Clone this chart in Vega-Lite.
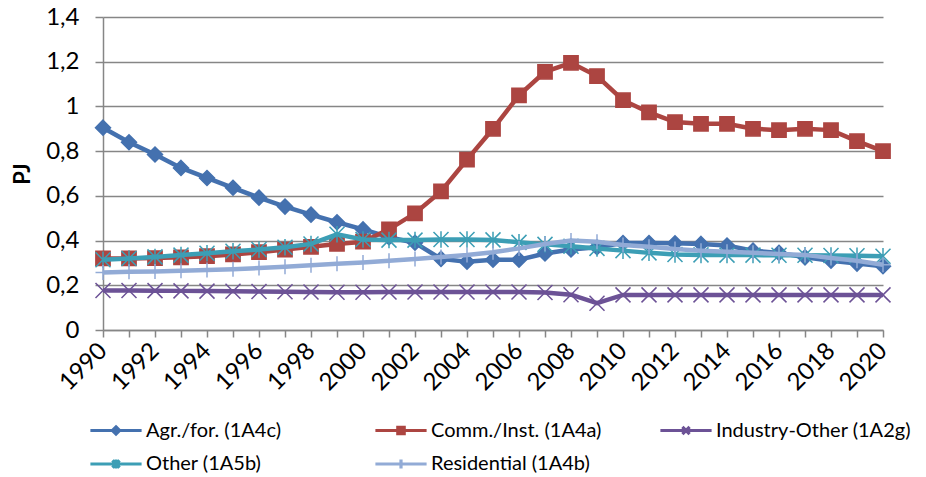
{
  "$schema": "https://vega.github.io/schema/vega-lite/v6.json",
  "autosize": {"type": "none"},
  "padding": {"left": 103, "top": 17, "right": 43, "bottom": 147},
  "width": 780,
  "height": 313,
  "background": "white",
  "config": {
    "view": {"stroke": null},
    "font": "Lato",
    "axis": {
      "domainColor": "#868686", "domainWidth": 1.5,
      "tickColor": "#868686", "tickWidth": 1.5,
      "gridColor": "#868686", "gridWidth": 1.5,
      "labelFont": "Lato", "labelFontSize": 24, "labelColor": "#000000",
      "titleFont": "Lato", "titleColor": "#000000"
    }
  },
  "data": {"values": [
    {"year": 1990, "agr": 0.905, "comm": 0.32, "ind": 0.177, "oth": 0.314, "res": 0.257},
    {"year": 1991, "agr": 0.84, "comm": 0.32, "ind": 0.177, "oth": 0.32, "res": 0.26},
    {"year": 1992, "agr": 0.785, "comm": 0.322, "ind": 0.176, "oth": 0.327, "res": 0.262},
    {"year": 1993, "agr": 0.725, "comm": 0.325, "ind": 0.175, "oth": 0.335, "res": 0.265},
    {"year": 1994, "agr": 0.68, "comm": 0.33, "ind": 0.174, "oth": 0.343, "res": 0.268},
    {"year": 1995, "agr": 0.636, "comm": 0.338, "ind": 0.173, "oth": 0.352, "res": 0.272},
    {"year": 1996, "agr": 0.592, "comm": 0.348, "ind": 0.172, "oth": 0.36, "res": 0.277},
    {"year": 1997, "agr": 0.552, "comm": 0.36, "ind": 0.171, "oth": 0.37, "res": 0.283},
    {"year": 1998, "agr": 0.516, "comm": 0.372, "ind": 0.17, "oth": 0.385, "res": 0.29},
    {"year": 1999, "agr": 0.482, "comm": 0.385, "ind": 0.169, "oth": 0.428, "res": 0.296},
    {"year": 2000, "agr": 0.45, "comm": 0.395, "ind": 0.169, "oth": 0.405, "res": 0.302},
    {"year": 2001, "agr": 0.415, "comm": 0.45, "ind": 0.17, "oth": 0.402, "res": 0.31},
    {"year": 2002, "agr": 0.39, "comm": 0.522, "ind": 0.17, "oth": 0.402, "res": 0.318},
    {"year": 2003, "agr": 0.318, "comm": 0.62, "ind": 0.17, "oth": 0.405, "res": 0.326},
    {"year": 2004, "agr": 0.305, "comm": 0.762, "ind": 0.17, "oth": 0.405, "res": 0.335},
    {"year": 2005, "agr": 0.314, "comm": 0.9, "ind": 0.17, "oth": 0.403, "res": 0.348},
    {"year": 2006, "agr": 0.314, "comm": 1.05, "ind": 0.17, "oth": 0.392, "res": 0.365},
    {"year": 2007, "agr": 0.342, "comm": 1.155, "ind": 0.168, "oth": 0.383, "res": 0.385},
    {"year": 2008, "agr": 0.36, "comm": 1.195, "ind": 0.158, "oth": 0.375, "res": 0.4},
    {"year": 2009, "agr": 0.37, "comm": 1.136, "ind": 0.12, "oth": 0.365, "res": 0.395},
    {"year": 2010, "agr": 0.389, "comm": 1.028, "ind": 0.157, "oth": 0.355, "res": 0.38},
    {"year": 2011, "agr": 0.389, "comm": 0.973, "ind": 0.157, "oth": 0.345, "res": 0.372},
    {"year": 2012, "agr": 0.388, "comm": 0.93, "ind": 0.157, "oth": 0.338, "res": 0.362},
    {"year": 2013, "agr": 0.385, "comm": 0.922, "ind": 0.157, "oth": 0.336, "res": 0.355},
    {"year": 2014, "agr": 0.378, "comm": 0.922, "ind": 0.157, "oth": 0.335, "res": 0.35},
    {"year": 2015, "agr": 0.355, "comm": 0.9, "ind": 0.157, "oth": 0.335, "res": 0.345},
    {"year": 2016, "agr": 0.345, "comm": 0.894, "ind": 0.157, "oth": 0.334, "res": 0.34},
    {"year": 2017, "agr": 0.325, "comm": 0.9, "ind": 0.157, "oth": 0.334, "res": 0.336},
    {"year": 2018, "agr": 0.31, "comm": 0.894, "ind": 0.157, "oth": 0.333, "res": 0.322},
    {"year": 2019, "agr": 0.297, "comm": 0.845, "ind": 0.157, "oth": 0.332, "res": 0.31},
    {"year": 2020, "agr": 0.285, "comm": 0.8, "ind": 0.157, "oth": 0.33, "res": 0.292}
  ]},
  "transform": [{"fold": ["agr", "comm", "ind", "oth", "res"], "as": ["series", "value"]}],
  "encoding": {
    "x": {
      "field": "year", "type": "quantitative",
      "scale": {"domain": [1990, 2020], "nice": false, "zero": false},
      "axis": {
        "values": [1990,1991,1992,1993,1994,1995,1996,1997,1998,1999,2000,2001,2002,2003,2004,2005,2006,2007,2008,2009,2010,2011,2012,2013,2014,2015,2016,2017,2018,2019,2020],
        "grid": false, "tickSize": 7, "labelAngle": -45, "labelAlign": "right", "labelBaseline": "middle",
        "labelPadding": 10, "format": "d", "labelFont": "Lato", "labelFontSize": 24, "labelColor": "#000000",
        "labelExpr": "datum.value % 2 === 0 ? datum.label : ''",
        "labelOverlap": false, "labelFlush": false, "labelBound": false, "title": null
      }
    },
    "y": {
      "field": "value", "type": "quantitative",
      "scale": {"domain": [0, 1.4], "nice": false},
      "axis": {
        "values": [0, 0.2, 0.4, 0.6, 0.8, 1, 1.2, 1.4],
        "grid": true, "tickSize": 8, "labelPadding": 16,
        "labelFont": "Lato", "labelFontSize": 24, "labelColor": "#000000",
        "labelExpr": "replace(format(datum.value, '.1~f'), '.', ',')",
        "title": "PJ", "titleFont": "Lato", "titleFontSize": 22, "titleFontWeight": "bold", "titleColor": "#000000",
        "titleX": -81, "titleY": 156.5, "titleAlign": "center", "titleBaseline": "middle"
      }
    }
  },
  "layer": [
    {"transform": [{"filter": "datum.series === 'agr'"}], "mark": {"type": "line", "strokeWidth": 4.5, "color": "#4471AF"}},
    {"transform": [{"filter": "datum.series === 'agr'"}], "mark": {"type": "point", "filled": true, "opacity": 1, "size": 225, "strokeWidth": 1.5, "fill": "#4471AF", "stroke": "#4471AF", "shape": "M0,-1L1,0L0,1L-1,0Z"}},
    {"transform": [{"filter": "datum.series === 'comm'"}], "mark": {"type": "line", "strokeWidth": 4.5, "color": "#AC4541"}},
    {"transform": [{"filter": "datum.series === 'comm'"}], "mark": {"type": "point", "filled": true, "opacity": 1, "size": 225, "strokeWidth": 1.5, "fill": "#AC4541", "stroke": "#AC4541", "shape": "M-0.95,-0.95L0.95,-0.95L0.95,0.95L-0.95,0.95Z"}},
    {"transform": [{"filter": "datum.series === 'ind'"}], "mark": {"type": "line", "strokeWidth": 4.5, "color": "#6C5296"}},
    {"transform": [{"filter": "datum.series === 'ind'"}], "mark": {"type": "point", "filled": true, "opacity": 1, "size": 225, "strokeWidth": 1.5, "fill": "#6C5296", "stroke": "#6C5296", "shape": "M-1,-1L1,1M-1,1L1,-1"}},
    {"transform": [{"filter": "datum.series === 'oth'"}], "mark": {"type": "line", "strokeWidth": 4.5, "color": "#3C9EB5"}},
    {"transform": [{"filter": "datum.series === 'oth'"}], "mark": {"type": "point", "filled": true, "opacity": 1, "size": 225, "strokeWidth": 1.5, "fill": "#3C9EB5", "stroke": "#3C9EB5", "shape": "M-1,-1L1,1M-1,1L1,-1M0,-1.1L0,1.1"}},
    {"transform": [{"filter": "datum.series === 'res'"}], "mark": {"type": "line", "strokeWidth": 4.5, "color": "#92ABD6"}},
    {"transform": [{"filter": "datum.series === 'res'"}], "mark": {"type": "point", "filled": true, "opacity": 1, "size": 225, "strokeWidth": 1.5, "fill": "#92ABD6", "stroke": "#92ABD6", "shape": "M0,-1L0,1M-1,0L1,0"}},
    {
      "mark": {"type": "point", "filled": false, "opacity": 0, "size": 256, "strokeWidth": 3},
      "encoding": {
        "color": {
          "field": "series", "type": "nominal",
          "scale": {"domain": ["agr", "comm", "ind", "oth", "res"], "range": ["#4471AF", "#AC4541", "#6C5296", "#3C9EB5", "#92ABD6"]},
          "legend": {
            "orient": "none", "legendX": 3, "legendY": 403, "direction": "horizontal", "columns": 3, "gridAlign": "all",
            "title": null, "symbolSize": 256, "symbolStrokeWidth": 3.2, "symbolOpacity": 1,
            "labelFont": "Lato", "labelFontSize": 20, "labelColor": "#000000", "labelOffset": 20, "labelLimit": 400,
            "columnPadding": 28, "rowPadding": 12,
            "labelExpr": "datum.value === 'agr' ? 'Agr./for. (1A4c)' : datum.value === 'comm' ? 'Comm./Inst. (1A4a)' : datum.value === 'ind' ? 'Industry-Other (1A2g)' : datum.value === 'oth' ? 'Other (1A5b)' : 'Residential (1A4b)'"
          }
        },
        "shape": {
          "field": "series", "type": "nominal",
          "scale": {"domain": ["agr", "comm", "ind", "oth", "res"], "range": [
            "M-3.2,0L3.2,0M0,-0.45L0.45,0L0,0.45L-0.45,0ZM0,-0.15L0.15,0L0,0.15L-0.15,0Z",
            "M-3.2,0L3.2,0M-0.4,-0.4L0.4,-0.4L0.4,0.4L-0.4,0.4ZM-0.15,-0.15L0.15,-0.15L0.15,0.15L-0.15,0.15Z",
            "M-3.2,0L3.2,0M-0.45,-0.45L0.45,0.45M-0.45,0.45L0.45,-0.45",
            "M-3.2,0L3.2,0M-0.45,-0.45L0.45,0.45M-0.45,0.45L0.45,-0.45M0,-0.55L0,0.55",
            "M-3.2,0L3.2,0M0,-0.55L0,0.55"
          ]}
        }
      }
    }
  ]
}
